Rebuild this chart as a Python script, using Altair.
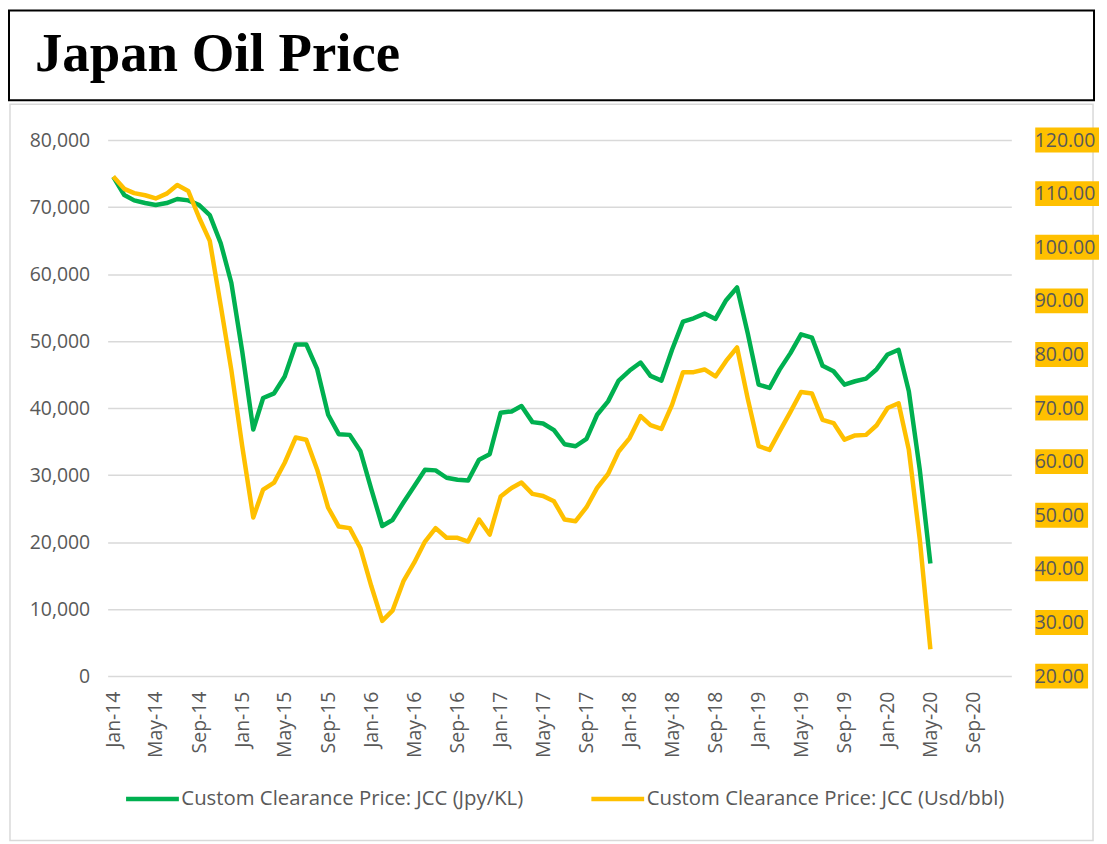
import altair as alt
import pandas as pd

# ---- data ----
months = [f"{y}-{m:02d}-01T00:00:00" for y in range(2014, 2021) for m in range(1, 13)][:77]

jpy_kl = [
    74500, 71800, 71000, 70600, 70300, 70600, 71200, 71000, 70300, 68800, 64600, 58700,
    48400, 36800, 41500, 42200, 44700, 49500, 49500, 45800, 39000, 36100, 36000, 33600,
    27900, 22400, 23300, 25900, 28300, 30800, 30700, 29600, 29300, 29200, 32300, 33100,
    39300, 39500, 40300, 37900, 37700, 36700, 34600, 34300, 35400, 39000, 41000, 44100,
    45600, 46800, 44800, 44100, 48700, 52900, 53400, 54100, 53300, 56100, 58000, 51200,
    43500, 43000, 45700, 48200, 51000, 50500, 46300, 45500, 43500, 44000, 44400, 45800,
    48000, 48700, 42500, 30800, 16800,
]

usd_bbl = [
    113.2, 110.9, 110.1, 109.7, 109.1, 110.0, 111.6, 110.5, 105.5, 101.2, 89.1, 77.1,
    62.8, 49.6, 54.8, 56.1, 59.8, 64.5, 64.1, 58.5, 51.4, 47.9, 47.6, 43.9,
    36.8, 30.3, 32.2, 37.7, 41.1, 45.1, 47.6, 45.8, 45.8, 45.1, 49.2, 46.4,
    53.5, 55.1, 56.1, 54.0, 53.6, 52.6, 49.2, 48.9, 51.5, 55.1, 57.7, 61.9,
    64.4, 68.5, 66.8, 66.1, 70.6, 76.7, 76.7, 77.2, 75.9, 78.8, 81.3, 71.8,
    62.9, 62.2, 65.6, 69.3, 73.0, 72.7, 67.8, 67.2, 64.1, 64.9, 65.0, 66.8,
    70.0, 70.9, 62.2, 45.5, 25.0,
]

left_ticks = [0, 10000, 20000, 30000, 40000, 50000, 60000, 70000, 80000]
right_ticks = [20, 30, 40, 50, 60, 70, 80, 90, 100, 110, 120]
x_tick_years = [2014, 2015, 2016, 2017, 2018, 2019, 2020]
x_tick_months = [1, 5, 9]

SER_G = "Custom Clearance Price: JCC (Jpy/KL)"
SER_Y = "Custom Clearance Price: JCC (Usd/bbl)"
TITLE = "Japan Oil Price"

df = pd.DataFrame({"month": months, "jpy": jpy_kl, "usd": usd_bbl})
ticks_df = pd.DataFrame({"v": right_ticks})
one_row = pd.DataFrame({"k": [0]})

FONT = "Open Sans"
LABEL_COLOR = "#595959"
GREEN = "#00B050"
YELLOW = "#FFC000"
W, H = 907, 538

x_values = [alt.DateTime(year=y, month=m, date=1) for y in x_tick_years for m in x_tick_months]

x_enc = alt.X(
    "month:T",
    scale=alt.Scale(
        domain=[alt.DateTime(year=2013, month=12, date=16), alt.DateTime(year=2020, month=12, date=16)],
        nice=False,
    ),
    axis=alt.Axis(
        values=x_values, format="%b-%y", labelAngle=270, labelPadding=15,
        grid=False, ticks=False, domain=False, title=None,
        labelOverlap=False, labelFlush=False,
    ),
)

color_scale = alt.Scale(domain=[SER_G, SER_Y], range=[GREEN, YELLOW])
legend = alt.Legend(
    orient="none", legendX=16, legendY=632, direction="horizontal", title=None,
    symbolType="stroke", symbolSize=2809, symbolStrokeWidth=4.5,
    labelFont=FONT, labelFontSize=20.4, labelColor=LABEL_COLOR,
    labelOffset=0, columnPadding=58, labelLimit=600, padding=0,
)

green = alt.Chart(df).transform_calculate(series=f"'{SER_G}'").mark_line(
    strokeWidth=4.5, strokeJoin="round"
).encode(
    x=x_enc,
    y=alt.Y(
        "jpy:Q",
        scale=alt.Scale(domain=[0, 80000], nice=False),
        axis=alt.Axis(
            orient="left", values=left_ticks, format=",.0f", grid=True,
            gridColor="#d9d9d9", gridWidth=1.5, ticks=False, domain=False,
            labelPadding=18, title=None,
        ),
    ),
    color=alt.Color("series:N", scale=color_scale, legend=legend),
)

right_axis = alt.Axis(
    orient="right", values=right_ticks, format=".2f", grid=False,
    ticks=False, domain=False, labelPadding=23, title=None, zindex=2,
)

yellow = alt.Chart(df).transform_calculate(series=f"'{SER_Y}'").mark_line(
    strokeWidth=4.5, strokeJoin="round"
).encode(
    x=x_enc,
    y=alt.Y("usd:Q", scale=alt.Scale(domain=[20, 120], nice=False), axis=right_axis),
    color=alt.Color("series:N", scale=color_scale, legend=legend),
)

y_box = alt.Y("v:Q", scale=alt.Scale(domain=[20, 120], nice=False), axis=right_axis)
box_wide = alt.Chart(ticks_df).transform_filter("datum.v >= 100").mark_point(
    shape="M-1,-0.39L1,-0.39L1,0.39L-1,0.39Z", size=4096, filled=True,
    color=YELLOW, opacity=1, strokeWidth=0,
).encode(x=alt.value(963), y=y_box)
box_narrow = alt.Chart(ticks_df).transform_filter("datum.v < 100").mark_point(
    shape="M-1,-0.4717L1,-0.4717L1,0.4717L-1,0.4717Z", size=2809, filled=True,
    color=YELLOW, opacity=1, strokeWidth=0,
).encode(x=alt.value(957.5), y=y_box)

gray_border = alt.Chart(one_row).mark_rect(
    fill="white", fillOpacity=0, stroke="#d9d9d9", strokeWidth=1.5
).encode(x=alt.value(-98), x2=alt.value(989), y=alt.value(-36), y2=alt.value(703))

title_box = alt.Chart(one_row).mark_rect(
    fill="white", fillOpacity=0, stroke="black", strokeWidth=2
).encode(x=alt.value(-99), x2=alt.value(990), y=alt.value(-130), y2=alt.value(-40))

title_text = alt.Chart(one_row).mark_text(
    text=TITLE, font="Liberation Serif", fontWeight="bold", fontSize=55,
    align="left", baseline="alphabetic", color="black",
).encode(x=alt.value(-73), y=alt.value(-69))

left = alt.layer(gray_border, title_box, title_text, green)
right = alt.layer(yellow, box_wide, box_narrow)

chart = alt.layer(left, right).resolve_scale(y="independent").properties(
    width=W, height=H, padding=0, background="white"
).configure_view(strokeWidth=0).configure_axis(
    labelFont=FONT, labelFontSize=19.5, labelColor=LABEL_COLOR
)

chart.save("out.html", embed_options={"renderer": "svg", "actions": False})
